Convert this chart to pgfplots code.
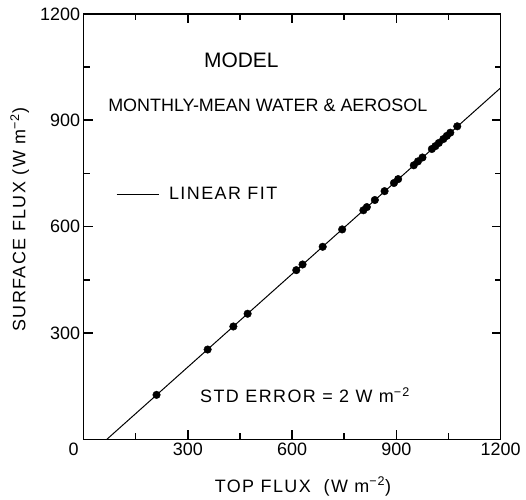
\documentclass[border=0pt]{standalone}
\usepackage{fontspec}
\setmainfont{Liberation Sans}
\newfontfamily\spaced{Liberation Sans}[LetterSpace=8]
\usepackage{pgfplots}
\pgfplotsset{compat=1.18}
\newcommand{\myfs}{\fontsize{18}{20}\selectfont}
\begin{document}
\begin{tikzpicture}
\begin{axis}[
  scale only axis,
  width=417bp, height=425bp,
  xmin=0, xmax=1200, ymin=0, ymax=1200,
  xtick={0,300,600,900,1200},
  xticklabels={\hbox to 0pt{\hss 0\hspace{5bp}},300,600,900,1200},
  ytick={300,600,900,1200},
  yticklabels={300,600,900,1200},
  minor x tick num=1,
  minor y tick num=1,
  major tick length=9bp,
  minor tick length=6bp,
  tick style={black, line width=1.6pt},
  axis line style={line width=1.3pt},
  ticklabel style={font=\myfs},
  xlabel={TOP FLUX\ \ (W m\textsuperscript{−2})},
  ylabel={SURFACE FLUX (W m\textsuperscript{−2})},
  xlabel style={font=\spaced\myfs, at={(axis description cs:0.526,-0.111)}, anchor=center},
  ylabel style={font=\spaced\myfs, at={(axis description cs:-0.153,0.516)}, anchor=center},
  legend style={at={(axis cs:93,691)}, anchor=west, draw=none, fill=none, inner sep=0pt,
    font=\spaced\myfs},
  legend image code/.code={\draw[#1] (0bp,0bp) -- (42bp,0bp);},
]
\addplot[black, line width=1pt] coordinates {(67.6,0) (1200,991.6)};
\addlegendentry{\hspace{8bp}LINEAR FIT}
\addplot[only marks, mark=*, mark size=3.8bp, black, forget plot] coordinates {
(210,125) (357,253) (431,318) (472,354) (612,477) (630,493) (688,543) (744,592)
(805,646) (815,655) (838,675) (866,700) (893,723) (905,734) (950,773) (962,784)
(975,795) (1002,819) (1012,827) (1022,836) (1035,847) (1045,856) (1055,865) (1075,883)
};
\node[font=\fontsize{21}{24}\selectfont] at (axis cs:454,1068) {MODEL};
\node[font=\myfs] at (axis cs:530,941) {MONTHLY-MEAN WATER \& AEROSOL};
\node[font=\spaced\myfs] at (axis cs:637,124) {STD ERROR = 2 W m\textsuperscript{−2}};
\end{axis}
\path ([xshift=-83.5bp,yshift=-53.6bp]current axis.south west) ([xshift=25.3bp,yshift=14bp]current axis.north east);
\end{tikzpicture}
\end{document}
